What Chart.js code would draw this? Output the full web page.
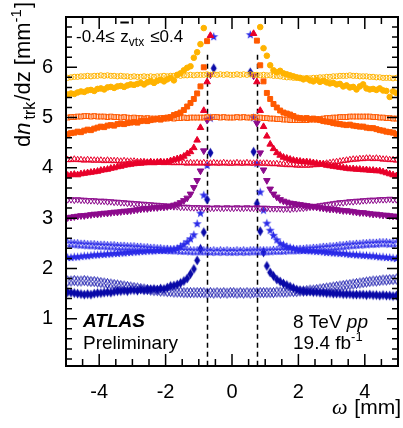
<!DOCTYPE html>
<html>
<head>
<meta charset="utf-8">
<script src="https://cdn.jsdelivr.net/npm/chart.js@4.4.1/dist/chart.umd.min.js"></script>
<style>
  html, body { margin: 0; padding: 0; background: #fff; }
  canvas { display: block; }
</style>
</head>
<body>
<canvas id="chart" width="403" height="428"></canvas>
<script>
// bin centres [mm]
const omega = [
  -4.95, -4.85, -4.75, -4.65, -4.55, -4.45, -4.35, -4.25, -4.15, -4.05,
  -3.95, -3.85, -3.75, -3.65, -3.55, -3.45, -3.35, -3.25, -3.15, -3.05,
  -2.95, -2.85, -2.75, -2.65, -2.55, -2.45, -2.35, -2.25, -2.15, -2.05,
  -1.95, -1.85, -1.75, -1.65, -1.55, -1.45, -1.35, -1.25, -1.15, -1.05,
  -0.95, -0.85, -0.75, -0.65, -0.55, -0.45, -0.35, -0.25, -0.15, -0.05,
  0.05, 0.15, 0.25, 0.35, 0.45, 0.55, 0.65, 0.75, 0.85, 0.95,
  1.05, 1.15, 1.25, 1.35, 1.45, 1.55, 1.65, 1.75, 1.85, 1.95,
  2.05, 2.15, 2.25, 2.35, 2.45, 2.55, 2.65, 2.75, 2.85, 2.95,
  3.05, 3.15, 3.25, 3.35, 3.45, 3.55, 3.65, 3.75, 3.85, 3.95,
  4.05, 4.15, 4.25, 4.35, 4.45, 4.55, 4.65, 4.75, 4.85, 4.95
];

const yellowFlat = [
  5.79, 5.80, 5.81, 5.81, 5.82, 5.82, 5.83, 5.82, 5.83, 5.83,
  5.84, 5.83, 5.84, 5.83, 5.83, 5.82, 5.83, 5.82, 5.82, 5.81,
  5.82, 5.81, 5.81, 5.82, 5.81, 5.82, 5.81, 5.82, 5.82, 5.83,
  5.82, 5.83, 5.83, 5.84, 5.83, 5.84, 5.84, 5.85, 5.84, 5.85,
  5.85, 5.85, 5.86, 5.85, 5.86, 5.85, 5.86, 5.85, 5.86, 5.85,
  5.85, 5.86, 5.85, 5.86, 5.85, 5.86, 5.85, 5.85, 5.84, 5.85,
  5.84, 5.84, 5.83, 5.83, 5.82, 5.81, 5.80, 5.80, 5.79, 5.79,
  5.78, 5.78, 5.78, 5.78, 5.79, 5.79, 5.80, 5.80, 5.81, 5.81,
  5.82, 5.82, 5.83, 5.83, 5.83, 5.84, 5.83, 5.83, 5.82, 5.82,
  5.82, 5.81, 5.81, 5.80, 5.80, 5.79, 5.79, 5.79, 5.78, 5.79
];
const yellowPeak = [
  5.46, 5.48, 5.47, 5.50, 5.52, 5.51, 5.54, 5.55, 5.53, 5.57,
  5.58, 5.56, 5.60, 5.61, 5.59, 5.62, 5.63, 5.61, 5.64, 5.66,
  5.65, 5.67, 5.69, 5.66, 5.70, 5.72, 5.69, 5.73, 5.75, 5.72,
  5.76, 5.79, 5.74, 5.85, 5.88, 5.94, 5.99, 6.02, 6.19, 6.30,
  6.46, 6.78, null, null, null, null, null, null, null, null,
  null, null, null, null, null, null, null, null, 6.80, 6.38,
  6.23, 6.04, 5.94, 5.90, 5.93, 5.88, 5.86, 5.84, 5.82, 5.80,
  5.79, 5.76, 5.78, 5.74, 5.72, 5.75, 5.71, 5.73, 5.70, 5.68,
  5.69, 5.66, 5.67, 5.62, 5.64, 5.60, 5.61, 5.56, 5.62, 5.66,
  5.58, 5.56, 5.57, 5.55, 5.58, 5.54, 5.53, 5.41, 5.52, 5.49
];
const orangeFlat = [
  5.00, 5.01, 5.01, 5.02, 5.02, 5.03, 5.03, 5.02, 5.03, 5.02,
  5.02, 5.02, 5.01, 5.02, 5.01, 5.01, 5.00, 5.01, 5.00, 4.99,
  5.00, 4.99, 4.99, 4.98, 4.99, 4.98, 4.98, 4.98, 4.99, 4.98,
  4.98, 4.99, 4.98, 4.99, 4.99, 5.00, 4.99, 5.00, 5.00, 5.00,
  5.00, 5.00, 5.01, 5.00, 5.01, 5.01, 5.00, 5.01, 5.00, 5.00,
  5.00, 5.01, 5.00, 5.01, 5.00, 5.00, 5.01, 5.00, 5.00, 4.99,
  4.99, 4.98, 4.98, 4.97, 4.97, 4.96, 4.96, 4.95, 4.95, 4.95,
  4.95, 4.95, 4.95, 4.96, 4.96, 4.97, 4.97, 4.98, 4.99, 4.99,
  5.00, 5.00, 5.01, 5.01, 5.01, 5.02, 5.02, 5.02, 5.02, 5.02,
  5.02, 5.02, 5.01, 5.01, 5.00, 5.00, 4.99, 4.99, 4.98, 4.98
];
const orangePeak = [
  4.67, 4.69, 4.70, 4.72, 4.71, 4.74, 4.76, 4.75, 4.78, 4.80,
  4.82, 4.81, 4.84, 4.85, 4.84, 4.87, 4.88, 4.87, 4.89, 4.90,
  4.91, 4.90, 4.93, 4.94, 4.93, 4.95, 4.96, 4.97, 4.96, 4.99,
  5.00, 5.01, 5.05, 5.07, 5.10, 5.15, 5.22, 5.29, 5.37, 5.48,
  5.62, 6.00, 6.52, null, null, null, null, null, null, null,
  null, null, null, null, null, null, null, 6.53, 6.04, 5.72,
  5.49, 5.37, 5.27, 5.20, 5.14, 5.10, 5.08, 5.06, 5.03, 5.00,
  4.99, 4.98, 4.99, 4.97, 4.98, 4.96, 4.95, 4.93, 4.92, 4.91,
  4.89, 4.88, 4.87, 4.86, 4.85, 4.86, 4.84, 4.83, 4.82, 4.82,
  4.80, 4.79, 4.79, 4.77, 4.75, 4.74, 4.72, 4.71, 4.70, 4.67
];
const redFlat = [
  4.16, 4.16, 4.17, 4.16, 4.16, 4.15, 4.16, 4.15, 4.15, 4.15,
  4.15, 4.14, 4.15, 4.14, 4.14, 4.14, 4.13, 4.14, 4.13, 4.13,
  4.13, 4.12, 4.12, 4.12, 4.11, 4.12, 4.11, 4.11, 4.11, 4.10,
  4.11, 4.10, 4.10, 4.10, 4.10, 4.10, 4.09, 4.10, 4.09, 4.10,
  4.09, 4.10, 4.09, 4.09, 4.10, 4.09, 4.09, 4.10, 4.09, 4.09,
  4.09, 4.10, 4.09, 4.09, 4.10, 4.09, 4.09, 4.10, 4.09, 4.09,
  4.09, 4.08, 4.08, 4.08, 4.07, 4.07, 4.06, 4.06, 4.06, 4.05,
  4.05, 4.05, 4.05, 4.05, 4.06, 4.06, 4.07, 4.08, 4.09, 4.10,
  4.11, 4.12, 4.13, 4.14, 4.15, 4.16, 4.17, 4.17, 4.18, 4.18,
  4.19, 4.19, 4.18, 4.19, 4.18, 4.17, 4.17, 4.16, 4.16, 4.15
];
const redPeak = [
  3.85, 3.86, 3.87, 3.86, 3.88, 3.89, 3.90, 3.91, 3.92, 3.93,
  3.95, 3.96, 3.97, 3.99, 4.00, 4.02, 4.03, 4.05, 4.06, 4.07,
  4.08, 4.09, 4.09, 4.10, 4.10, 4.11, 4.10, 4.11, 4.12, 4.11,
  4.12, 4.14, 4.16, 4.18, 4.20, 4.23, 4.28, 4.32, 4.40, 4.55,
  4.80, 5.14, 5.71, 6.63, null, null, null, null, null, null,
  null, null, null, null, null, null, 6.67, 5.71, 5.14, 4.82,
  4.63, 4.47, 4.38, 4.30, 4.25, 4.21, 4.19, 4.17, 4.15, 4.14,
  4.13, 4.12, 4.12, 4.11, 4.10, 4.09, 4.08, 4.07, 4.05, 4.04,
  4.03, 4.02, 4.01, 4.00, 3.99, 3.98, 3.98, 3.97, 3.97, 3.96,
  3.96, 3.95, 3.95, 3.94, 3.94, 3.92, 3.90, 3.88, 3.86, 3.84
];
const purpleFlat = [
  3.37, 3.37, 3.36, 3.37, 3.36, 3.36, 3.35, 3.35, 3.35, 3.34,
  3.34, 3.34, 3.33, 3.33, 3.32, 3.32, 3.31, 3.31, 3.30, 3.30,
  3.29, 3.29, 3.28, 3.28, 3.27, 3.27, 3.26, 3.26, 3.25, 3.25,
  3.24, 3.24, 3.23, 3.23, 3.22, 3.22, 3.22, 3.21, 3.21, 3.21,
  3.21, 3.20, 3.21, 3.20, 3.20, 3.21, 3.20, 3.20, 3.21, 3.20,
  3.20, 3.21, 3.20, 3.20, 3.21, 3.20, 3.20, 3.21, 3.20, 3.20,
  3.20, 3.19, 3.19, 3.19, 3.19, 3.18, 3.19, 3.18, 3.19, 3.19,
  3.20, 3.20, 3.21, 3.22, 3.23, 3.24, 3.25, 3.26, 3.27, 3.28,
  3.29, 3.30, 3.31, 3.31, 3.32, 3.33, 3.33, 3.34, 3.34, 3.35,
  3.35, 3.36, 3.36, 3.36, 3.37, 3.37, 3.37, 3.38, 3.37, 3.37
];
const purplePeak = [
  3.01, 3.02, 3.03, 3.04, 3.05, 3.05, 3.06, 3.07, 3.08, 3.08,
  3.09, 3.10, 3.10, 3.11, 3.12, 3.12, 3.13, 3.14, 3.14, 3.15,
  3.16, 3.17, 3.18, 3.19, 3.19, 3.20, 3.21, 3.21, 3.22, 3.22,
  3.23, 3.24, 3.26, 3.28, 3.31, 3.35, 3.40, 3.48, 3.61, 3.75,
  3.94, 4.34, 4.95, 5.85, null, null, null, null, null, null,
  null, null, null, null, null, null, 5.83, 4.89, 4.30, 3.96,
  3.75, 3.58, 3.48, 3.42, 3.37, 3.34, 3.32, 3.30, 3.29, 3.28,
  3.27, 3.26, 3.25, 3.24, 3.23, 3.22, 3.21, 3.20, 3.19, 3.18,
  3.18, 3.17, 3.16, 3.15, 3.15, 3.14, 3.13, 3.12, 3.11, 3.11,
  3.10, 3.09, 3.08, 3.08, 3.07, 3.06, 3.06, 3.05, 3.04, 3.04
];
const blueFlat = [
  2.50, 2.50, 2.49, 2.49, 2.48, 2.48, 2.47, 2.47, 2.47, 2.46,
  2.46, 2.46, 2.45, 2.45, 2.45, 2.44, 2.44, 2.44, 2.43, 2.43,
  2.43, 2.42, 2.42, 2.41, 2.41, 2.40, 2.40, 2.39, 2.39, 2.38,
  2.38, 2.37, 2.37, 2.37, 2.36, 2.36, 2.36, 2.35, 2.35, 2.35,
  2.35, 2.35, 2.35, 2.34, 2.35, 2.34, 2.35, 2.34, 2.35, 2.34,
  2.34, 2.35, 2.34, 2.35, 2.34, 2.35, 2.35, 2.35, 2.35, 2.35,
  2.35, 2.35, 2.36, 2.36, 2.36, 2.36, 2.37, 2.37, 2.37, 2.37,
  2.38, 2.38, 2.39, 2.39, 2.40, 2.40, 2.41, 2.42, 2.42, 2.43,
  2.43, 2.44, 2.45, 2.45, 2.46, 2.47, 2.47, 2.48, 2.48, 2.49,
  2.49, 2.50, 2.50, 2.50, 2.51, 2.51, 2.51, 2.50, 2.51, 2.50
];
const bluePeak = [
  2.22, 2.22, 2.23, 2.23, 2.24, 2.25, 2.25, 2.26, 2.27, 2.27,
  2.28, 2.28, 2.29, 2.29, 2.30, 2.30, 2.31, 2.31, 2.32, 2.32,
  2.33, 2.33, 2.34, 2.34, 2.35, 2.35, 2.35, 2.36, 2.36, 2.36,
  2.37, 2.37, 2.38, 2.40, 2.44, 2.48, 2.53, 2.59, 2.67, 2.89,
  3.10, 3.46, 4.05, 4.99, 6.61, null, null, null, null, null,
  null, null, null, null, null, 6.65, 5.00, 4.09, 3.52, 3.16,
  2.90, 2.76, 2.66, 2.57, 2.50, 2.47, 2.44, 2.42, 2.40, 2.38,
  2.37, 2.36, 2.36, 2.35, 2.35, 2.34, 2.34, 2.33, 2.32, 2.32,
  2.31, 2.31, 2.30, 2.30, 2.29, 2.28, 2.28, 2.27, 2.27, 2.26,
  2.26, 2.25, 2.25, 2.24, 2.23, 2.23, 2.22, 2.22, 2.21, 2.20
];
const navyFlat = [
  1.75, 1.75, 1.76, 1.75, 1.75, 1.76, 1.75, 1.74, 1.74, 1.73,
  1.72, 1.71, 1.70, 1.69, 1.68, 1.67, 1.66, 1.65, 1.64, 1.63,
  1.62, 1.61, 1.60, 1.59, 1.58, 1.57, 1.56, 1.56, 1.55, 1.55,
  1.54, 1.54, 1.53, 1.53, 1.53, 1.52, 1.52, 1.52, 1.52, 1.52,
  1.52, 1.52, 1.51, 1.52, 1.51, 1.52, 1.51, 1.52, 1.51, 1.52,
  1.52, 1.51, 1.52, 1.51, 1.52, 1.51, 1.52, 1.52, 1.52, 1.52,
  1.52, 1.52, 1.52, 1.53, 1.53, 1.53, 1.53, 1.54, 1.54, 1.54,
  1.55, 1.55, 1.56, 1.57, 1.57, 1.58, 1.59, 1.60, 1.61, 1.62,
  1.63, 1.64, 1.65, 1.66, 1.67, 1.68, 1.69, 1.70, 1.71, 1.72,
  1.73, 1.74, 1.75, 1.75, 1.76, 1.77, 1.77, 1.78, 1.78, 1.79
];
const navyPeak = [
  1.53, 1.52, 1.51, 1.50, 1.49, 1.48, 1.49, 1.48, 1.50, 1.51,
  1.51, 1.52, 1.53, 1.52, 1.54, 1.55, 1.55, 1.56, 1.55, 1.57,
  1.57, 1.56, 1.58, 1.57, 1.58, 1.58, 1.59, 1.58, 1.60, 1.59,
  1.62, 1.65, 1.66, 1.68, 1.71, 1.75, 1.80, 1.89, 1.99, 2.16,
  2.39, 2.72, 3.37, 4.30, 5.98, null, null, null, null, null,
  null, null, null, null, null, 5.90, 4.32, 3.29, 2.74, 2.32,
  2.05, 1.92, 1.85, 1.78, 1.74, 1.70, 1.67, 1.64, 1.61, 1.58,
  1.56, 1.55, 1.54, 1.54, 1.53, 1.53, 1.52, 1.52, 1.51, 1.51,
  1.50, 1.50, 1.50, 1.49, 1.49, 1.49, 1.48, 1.48, 1.48, 1.48,
  1.47, 1.48, 1.47, 1.47, 1.46, 1.47, 1.46, 1.46, 1.45, 1.46
];

const xTicks = [-4, -2, 0, 2, 4];
const yTicks = [1, 2, 3, 4, 5, 6];
const cutLines = [-0.75, 0.75];
const cutTop = 6.25;

const FONT = '"Liberation Sans", Arial, Helvetica, sans-serif';
const SERIF = '"Liberation Serif", "Times New Roman", serif';

function pts(vals){
  return omega
    .map((x,i)=>({x, y: vals[i]}))
    .filter(p=>p.y !== null);
}

function starImage(color, filled){
  const c = document.createElement("canvas");
  c.width = 11; c.height = 11;
  const g = c.getContext("2d");
  g.beginPath();
  for(let k=0;k<10;k++){
    const r = k % 2 ? 1.9 : 4.7;
    const a = -Math.PI/2 + k*Math.PI/5;
    g.lineTo(5.5 + r*Math.cos(a), 5.8 + r*Math.sin(a));
  }
  g.closePath();
  if(filled){ g.fillStyle = color; g.fill(); }
  else { g.strokeStyle = color; g.lineWidth = 1; g.stroke(); }
  return c;
}

function diamondImage(color, filled){
  const c = document.createElement("canvas");
  c.width = 9; c.height = 13;
  const g = c.getContext("2d");
  g.beginPath();
  g.moveTo(4.5, 1.5); g.lineTo(7.5, 6.5); g.lineTo(4.5, 11.5); g.lineTo(1.5, 6.5);
  g.closePath();
  if(filled){ g.fillStyle = color; g.fill(); }
  else { g.strokeStyle = color; g.lineWidth = 1; g.stroke(); }
  return c;
}

const colors = {
  yellow: "#ffb300",
  orange: "#ff5a00",
  red: "#e8002a",
  purple: "#8c0a8c",
  blue: "#2a2ae8",
  navy: "#0a0aa8"
};

function series(vals, color, style, filled, radius, rotation){
  return {
    data: pts(vals),
    showLine: false,
    pointStyle: style,
    pointRadius: radius,
    pointRotation: rotation || 0,
    pointBorderWidth: 1,
    pointBorderColor: color,
    pointBackgroundColor: filled ? color : "rgba(0,0,0,0)"
  };
}

const datasets = [
  series(yellowFlat, colors.yellow, "circle", false, 2.6),
  series(orangeFlat, colors.orange, "rect", false, 3.4),
  series(redFlat, colors.red, "triangle", false, 3.6),
  series(purpleFlat, colors.purple, "triangle", false, 3.6, 180),
  series(blueFlat, colors.blue, starImage(colors.blue, false), false, 4),
  series(navyFlat, colors.navy, diamondImage(colors.navy, false), false, 4),
  series(yellowPeak, colors.yellow, "circle", true, 2.8),
  series(orangePeak, colors.orange, "rect", true, 3.5),
  series(redPeak, colors.red, "triangle", true, 3.8),
  series(purplePeak, colors.purple, "triangle", true, 3.8, 180),
  series(bluePeak, colors.blue, starImage(colors.blue, true), true, 4),
  series(navyPeak, colors.navy, diamondImage(colors.navy, true), true, 4)
];

// draws a run of text pieces, returns the width
function rich(ctx, x, y, parts, measureOnly){
  let w = 0;
  parts.forEach(p=>{
    ctx.font = p.font;
    if(!measureOnly) ctx.fillText(p.t, x + w, y + (p.dy || 0));
    w += ctx.measureText(p.t).width + (p.gap || 0);
  });
  return w;
}

const decorations = {
  id: "decorations",
  beforeDatasetsDraw(chart){
    const {ctx, chartArea:a, scales:{x, y}} = chart;
    ctx.save();
    ctx.strokeStyle = "#000";
    ctx.lineWidth = 1.5;
    ctx.setLineDash([5,4]);
    cutLines.forEach(v=>{
      const px = Math.round(x.getPixelForValue(v)) + 0.5;
      ctx.beginPath();
      ctx.moveTo(px, y.getPixelForValue(cutTop));
      ctx.lineTo(px, a.bottom);
      ctx.stroke();
    });
    ctx.restore();
  },
  afterDatasetsDraw(chart){
    const {ctx, chartArea:a, scales:{x, y}} = chart;
    ctx.save();
    ctx.strokeStyle = "#000";
    ctx.lineWidth = 1.5;

    // ticks on all four sides
    ctx.beginPath();
    for(let v=-5; v<=5.001; v+=0.5){
      const px = x.getPixelForValue(v);
      const major = Math.abs(v % 2) < 1e-6;
      const len = major ? 12 : 7;
      ctx.moveTo(px, a.bottom); ctx.lineTo(px, a.bottom - len);
      ctx.moveTo(px, a.top); ctx.lineTo(px, a.top + len);
    }
    for(let k=1; k<=34; k++){
      const v = k*0.2;
      if(v < y.min || v > y.max) continue;
      const py = y.getPixelForValue(v);
      const major = Math.abs(v - Math.round(v)) < 1e-6;
      const len = major ? 11 : 6;
      ctx.moveTo(a.left, py); ctx.lineTo(a.left + len, py);
      ctx.moveTo(a.right, py); ctx.lineTo(a.right - len, py);
    }
    ctx.stroke();

    // frame
    ctx.lineWidth = 2;
    ctx.strokeRect(a.left, a.top, a.right - a.left, a.bottom - a.top);

    ctx.fillStyle = "#000";
    ctx.textBaseline = "alphabetic";
    ctx.textAlign = "left";

    // y title
    const yTitle = [
      {t:"d", font:`22px ${FONT}`},
      {t:"n", font:`italic 22px ${FONT}`, gap:3},
      {t:"trk", font:`16px ${FONT}`, dy:5, gap:1},
      {t:"/dz [mm", font:`22px ${FONT}`},
      {t:"-1", font:`15px ${FONT}`, dy:-9, gap:1},
      {t:"]", font:`22px ${FONT}`}
    ];
    const tw = rich(ctx, 0, 0, yTitle, true);
    ctx.save();
    ctx.translate(30, 2 + tw);
    ctx.rotate(-Math.PI/2);
    rich(ctx, 0, 0, yTitle);
    ctx.restore();

    // x title
    const xTitle = [
      {t:"\u03c9", font:`italic 22px ${SERIF}`, gap:1},
      {t:" [mm]", font:`21px ${FONT}`}
    ];
    const xw = rich(ctx, 0, 0, xTitle, true);
    rich(ctx, 401 - xw, 414, xTitle);

    // vertex window
    let cx = 76;
    cx += rich(ctx, cx, 42, [{t:"-0.4\u2264 ", font:`17px ${FONT}`, gap:1}]);
    ctx.font = `17px ${FONT}`;
    const zw = ctx.measureText("z").width;
    ctx.fillText("z", cx, 42);
    ctx.fillRect(cx, 21.5, zw, 2);
    cx += zw;
    cx += rich(ctx, cx, 46, [{t:"vtx", font:`12px ${FONT}`, gap:6}]);
    rich(ctx, cx, 42, [{t:"\u22640.4", font:`17px ${FONT}`}]);

    // labels
    rich(ctx, 83, 327, [{t:"ATLAS", font:`italic bold 19px ${FONT}`}]);
    rich(ctx, 83, 349, [{t:"Preliminary", font:`19px ${FONT}`}]);
    rich(ctx, 293, 328, [
      {t:"8 TeV ", font:`19px ${FONT}`},
      {t:"pp", font:`italic 19px ${FONT}`}
    ]);
    rich(ctx, 293, 349, [
      {t:"19.4 fb", font:`19px ${FONT}`},
      {t:"-1", font:`13px ${FONT}`, dy:-8}
    ]);

    ctx.restore();
  }
};

new Chart(document.getElementById("chart"), {
  type: "scatter",
  data: { datasets },
  plugins: [decorations],
  options: {
    responsive: false,
    animation: false,
    devicePixelRatio: 1,
    layout: { padding: { top: 3, right: 3, left: 0, bottom: 0 } },
    plugins: { legend: { display: false }, tooltip: { enabled: false } },
    scales: {
      x: {
        type: "linear",
        min: -5, max: 5,
        afterBuildTicks: s => { s.ticks = xTicks.map(v=>({value:v})); },
        afterFit: s => { s.height = 62; },
        grid: { display: false },
        border: { display: false },
        ticks: {
          color: "#000",
          padding: 6,
          maxRotation: 0,
          font: { family: FONT, size: 20 },
          callback: v => String(v)
        }
      },
      y: {
        type: "linear",
        min: 0.06, max: 7.0,
        afterBuildTicks: s => { s.ticks = yTicks.map(v=>({value:v})); },
        afterFit: s => { s.width = 66; },
        grid: { display: false },
        border: { display: false },
        ticks: {
          color: "#000",
          padding: 5,
          font: { family: FONT, size: 20 },
          callback: v => String(v)
        }
      }
    }
  }
});
</script>
</body>
</html>
